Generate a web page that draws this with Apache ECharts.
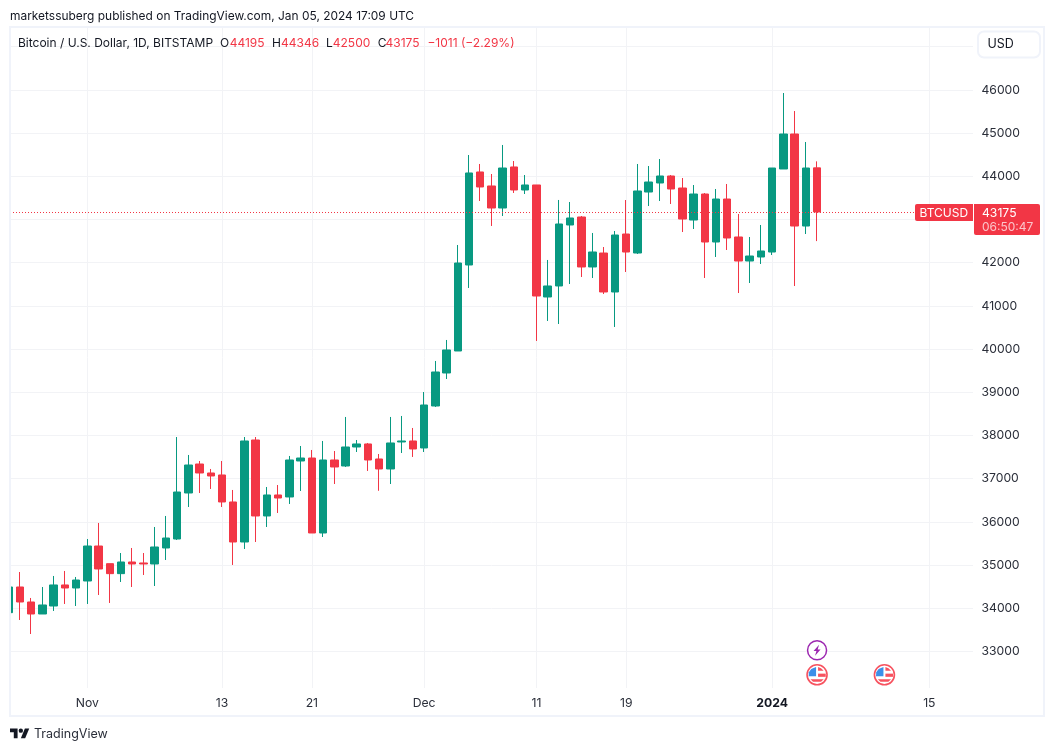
<!DOCTYPE html>
<html><head><meta charset="utf-8">
<style>html,body{margin:0;padding:0;background:#fff}#c{width:1054px;height:751px}</style>
<script src="https://cdn.jsdelivr.net/npm/echarts@6/dist/echarts.min.js"></script>
</head><body><div id="c"></div>
<script>
const opens  = [33899,34493,34146,33868,34053,34540,34470,34632,35442,35033,34802,35072,35049,35026,35396,35604,36669,37340,37132,37086,36461,35535,37896,36137,36623,36577,37410,37479,35743,37433,37294,37734,37804,37456,37225,37850,37873,37711,38683,39447,39956,41947,44100,43776,43266,44216,43683,43799,41206,41461,42873,43058,41901,42224,41322,42664,42224,43636,43845,44007,43729,42988,43590,42479,43474,42595,42039,42132,42247,44169,44979,42849,44195];
const closes = [34493,34146,33868,34077,34540,34470,34655,35442,34910,34802,35072,35026,35026,35419,35627,36692,37317,37132,37063,36461,35535,37873,36137,36623,36553,37433,37479,35743,37433,37271,37734,37804,37433,37225,37827,37873,37688,38706,39470,39980,41993,44077,43753,43266,44192,43683,43799,41229,41461,42896,43035,41901,42248,41322,42641,42247,43660,43868,44007,43706,43011,43590,42479,43474,42572,42039,42155,42271,44192,44979,42849,44192,43175];
const lows   = [33700,33729,33405,33868,33938,34100,34053,34100,34308,34123,34609,34493,34771,34516,35118,35581,36345,36669,36762,36345,35003,35373,35535,35882,36206,36415,36715,35743,35651,36877,37271,37618,37179,36720,36877,37595,37503,37618,38660,39308,39956,41415,43428,42850,43081,43614,43590,40188,40651,40581,41507,41669,41646,41275,40512,41785,42201,43312,43428,43359,42710,42780,41646,42132,42294,41298,41530,41970,42178,44169,41460,42664,42500];
const highs  = [34850,34840,34239,34493,34748,34864,34725,35604,35975,35033,35280,35396,35280,35882,36137,37965,37549,37410,37225,37410,36739,37965,37965,36808,36854,37526,37757,37665,37873,37641,38429,37896,37827,37572,38429,38452,38174,39007,39725,40211,42410,44493,44285,44053,44725,44354,44030,43799,42063,43452,43405,43081,42688,42363,42734,43451,44285,44238,44400,44030,43960,43798,43613,43706,43822,43127,42595,42873,44192,45928,45511,44794,44346];
const timeTickIndex = [7,19,27,37,47,55,68,82];
const timeTickLabel = ['Nov','13','21','Dec','11','19','2024','15'];
const priceLabels = [33000,34000,35000,36000,37000,38000,39000,40000,41000,42000,43000,44000,45000,46000];
const priceGrid = priceLabels.concat([47000]);
const lastPrice = 43175;
const lightningEvents = [[72,33030]];
const flagEvents = [[72,32460],[78,32460]];

const FONT = 'Inter, Roboto, sans-serif';
const GREEN = '#089981', RED = '#f23645', GRID = '#f2f3f6', FRAME = '#f0f3fa', INK = '#131722';
const chart = echarts.init(document.getElementById('c'), null, {renderer:'canvas'});

function txt(text,x,y,fill,size,extra){
  return {type:'text',z:100,silent:true,style:Object.assign({text,x,y,fill,font:(size||12)+'px '+FONT,textVerticalAlign:'middle'},extra||{})};
}
const graphics = [
  {type:'rect',z:80,silent:true,shape:{x:0,y:27,width:10,height:690},style:{fill:'#fff'}},
  {type:'rect',z:90,silent:true,shape:{x:10,y:27,width:1034,height:689},style:{fill:'none',stroke:FRAME,lineWidth:2}},
  {type:'rect',z:95,silent:true,shape:{x:978,y:31.5,width:62,height:26,r:6},style:{fill:'#fff',stroke:FRAME,lineWidth:2}},
  {type:'rect',z:95,silent:true,shape:{x:915,y:204,width:58,height:17,r:[2,0,0,2]},style:{fill:RED}},
  {type:'rect',z:95,silent:true,shape:{x:974,y:204,width:66,height:31,r:[0,2,2,2]},style:{fill:RED}},
  txt('marketssuberg published on TradingView.com, Jan 05, 2024 17:09 UTC',10,16,INK,11.94),
  txt('Bitcoin / U.S. Dollar, 1D, BITSTAMP',18,43,INK),
  txt('O',220,43,INK), txt('44195',229.7,43,RED),
  txt('H',272,43,INK), txt('44346',281,43,RED),
  txt('L',326,43,INK), txt('42500',332.8,43,RED),
  txt('C',377.7,43,INK), txt('43175',385.5,43,RED),
  txt('\u22121011 (\u22122.29%)',427.4,43,RED),
  txt('USD',987.5,44,INK,12.5),
  txt('BTCUSD',919.5,213.5,'#fff'),
  txt('43175',982,213,'#fff',12.2),
  txt('06:50:47',982,227.5,'#fbc4ca'),
  {type:'group',x:10,y:726.3,scaleX:0.542,scaleY:0.542,z:100,silent:true,children:[
    {type:'polygon',z:100,shape:{points:[[14,22],[7,22],[7,11],[0,11],[0,4],[14,4]]},style:{fill:INK}},
    {type:'polygon',z:100,shape:{points:[[28,22],[20,22],[27.5,4],[35.5,4]]},style:{fill:INK}},
    {type:'circle',z:100,shape:{cx:20,cy:8,r:4},style:{fill:INK}}
  ]},
  txt('TradingView',34,734.5,'#2a2e39',12.5)
];

function iconLightning(params,api){
  const p = api.coord([api.value(0),api.value(1)]);
  return {type:'group',x:p[0],y:p[1],children:[
    {type:'circle',shape:{cx:0,cy:0,r:9.5},style:{fill:'#fff',stroke:'#9c27b0',lineWidth:1.5}},
    {type:'polygon',shape:{points:[[2,-5.5],[-3.5,0.8],[-0.6,0.8],[-2,5.5],[3.5,-0.8],[0.6,-0.8]]},style:{fill:'#9c27b0'}}
  ]};
}
function iconFlag(params,api){
  const p = api.coord([api.value(0),api.value(1)]);
  const red='#f7525f', blue='#3d8fe8';
  return {type:'group',x:p[0],y:p[1],children:[
    {type:'circle',shape:{cx:0,cy:0,r:10},style:{fill:'#fff',stroke:red,lineWidth:1.6}},
    {type:'polygon',shape:{points:[[1,-7.8],[4,-6.6],[6.6,-4],[1,-4]]},style:{fill:red}},
    {type:'rect',shape:{x:1,y:-1.2,width:7.7,height:3.2},style:{fill:red}},
    {type:'polygon',shape:{points:[[-6.6,4.4],[6.6,4.4],[4,7],[-4,7]]},style:{fill:red}},
    {type:'polygon',shape:{points:[[-1,-7.9],[-1,1.5],[-8.4,1.5],[-8.2,-2.5],[-5.8,-5.8]]},style:{fill:blue}}
  ]};
}

chart.setOption({
  animation:false,
  backgroundColor:'#fff',
  graphic:graphics,
  grid:{left:10,top:27,width:963,height:661,containLabel:false},
  xAxis:{type:'value',min:0.115,max:85.89,
    axisLine:{show:false},
    axisTick:{show:false,customValues:timeTickIndex},
    splitLine:{show:true,lineStyle:{color:GRID,width:1}},
    axisLabel:{show:true,customValues:timeTickIndex,margin:9,color:'#2a2e39',fontFamily:FONT,fontSize:12.2,
      formatter:v=>{const s=timeTickLabel[timeTickIndex.indexOf(v)]; return s==='2024'?'{b|2024}':s;},
      rich:{b:{fontWeight:'bold',color:INK,fontFamily:FONT,fontSize:12.2}}}
  },
  yAxis:{type:'value',position:'right',min:32155,max:47456,
    axisLine:{show:false},
    axisTick:{show:false,customValues:priceGrid},
    splitLine:{show:true,lineStyle:{color:GRID,width:1}},
    axisLabel:{show:true,customValues:priceLabels,margin:8.5,color:'#2a2e39',fontFamily:FONT,fontSize:12.2,align:'left',padding:[2,0,0,0],formatter:v=>String(v)}
  },
  series:[
    {type:'candlestick',barWidth:8,clip:true,
      itemStyle:{color:GREEN,color0:RED,borderColor:GREEN,borderColor0:RED,borderColorDoji:RED,borderWidth:1},
      data:opens.map((o,i)=>[i,o,closes[i],lows[i],highs[i]]),
      encode:{x:0,y:[1,2,3,4]},
      markLine:{silent:true,symbol:'none',animation:false,label:{show:false},
        lineStyle:{color:RED,type:[1,2],width:1},data:[{yAxis:lastPrice}]}
    },
    {type:'custom',renderItem:iconLightning,data:lightningEvents,encode:{x:0,y:1},silent:true,z:5},
    {type:'custom',renderItem:iconFlag,data:flagEvents,encode:{x:0,y:1},silent:true,z:5}
  ]
});
</script></body></html>
